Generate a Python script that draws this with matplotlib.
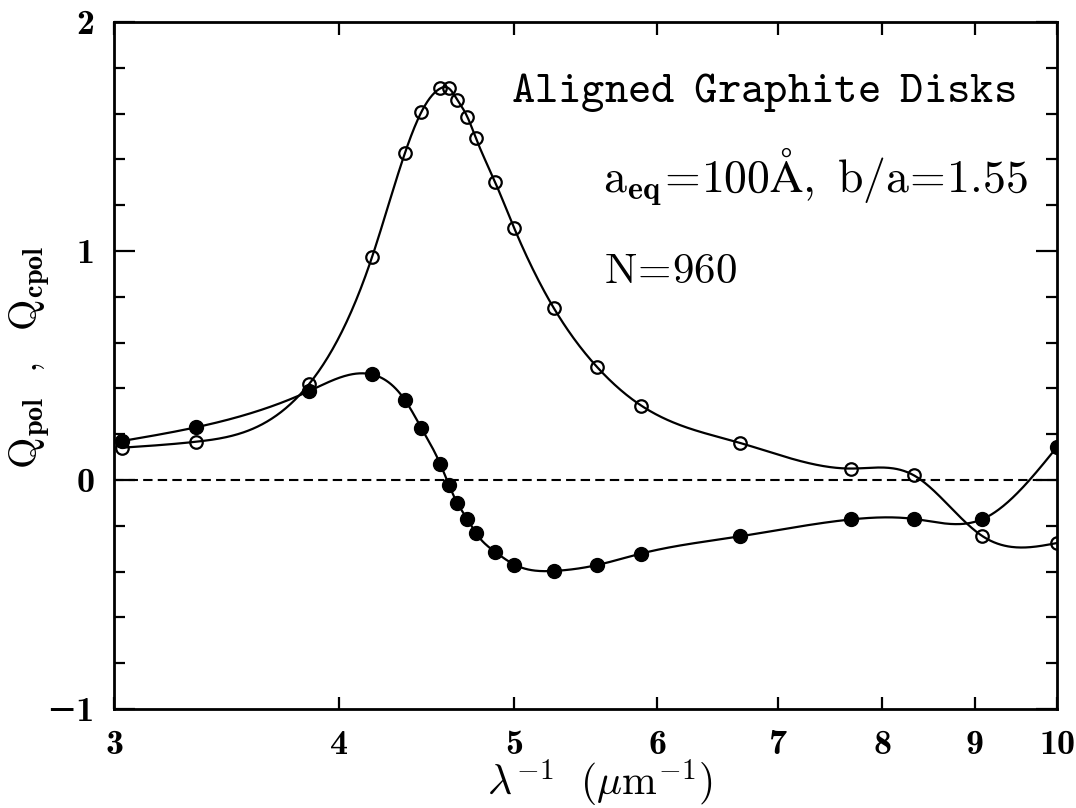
import numpy as np
import matplotlib
matplotlib.use("Agg")
import matplotlib.pyplot as plt
from matplotlib.ticker import MultipleLocator, NullLocator

plt.rcParams["mathtext.fontset"] = "cm"
plt.rcParams["axes.unicode_minus"] = True

# Inverse wavelength grid (um^-1), shared by both efficiencies
inv_lambda = [3.03, 3.33, 3.85, 4.17, 4.35, 4.44, 4.55, 4.60, 4.65, 4.71, 4.76,
              4.88, 5.00, 5.26, 5.56, 5.88, 6.67, 7.69, 8.33, 9.09, 10.0]

# Polarization efficiency (open circles)
q_pol = [0.141, 0.167, 0.421, 0.973, 1.430, 1.605, 1.710, 1.710, 1.660, 1.585, 1.495,
         1.300, 1.100, 0.750, 0.492, 0.325, 0.162, 0.050, 0.020, -0.245, -0.275]

# Circular polarization efficiency (filled circles)
q_cpol = [0.170, 0.230, 0.389, 0.461, 0.348, 0.229, 0.069, -0.021, -0.101, -0.171, -0.230,
          -0.314, -0.369, -0.397, -0.371, -0.321, -0.246, -0.172, -0.170, -0.171, 0.145]

x_ticks = [3, 4, 5, 6, 7, 8, 9, 10]
x_tick_labels = ["3", "4", "5", "6", "7", "8", "9", "10"]
y_ticks = [-1, 0, 1, 2]
y_tick_labels = ["\u22121", "0", "1", "2"]

TICK_FONT = ["cmb10", "DejaVu Sans"]


def natural_spline(xk, yk, xs):
    """Natural cubic spline through (xk, yk), evaluated at xs."""
    xk = np.asarray(xk, float)
    yk = np.asarray(yk, float)
    n = len(xk)
    h = np.diff(xk)
    A = np.zeros((n, n))
    r = np.zeros(n)
    A[0, 0] = A[-1, -1] = 1.0
    for i in range(1, n - 1):
        A[i, i - 1] = h[i - 1]
        A[i, i] = 2.0 * (h[i - 1] + h[i])
        A[i, i + 1] = h[i]
        r[i] = 3.0 * ((yk[i + 1] - yk[i]) / h[i] - (yk[i] - yk[i - 1]) / h[i - 1])
    c = np.linalg.solve(A, r)
    b = np.diff(yk) / h - h * (2.0 * c[:-1] + c[1:]) / 3.0
    d = (c[1:] - c[:-1]) / (3.0 * h)
    idx = np.clip(np.searchsorted(xk, xs) - 1, 0, n - 2)
    dx = xs - xk[idx]
    return yk[idx] + b[idx] * dx + c[idx] * dx ** 2 + d[idx] * dx ** 3


fig = plt.figure(figsize=(10.76, 8.08), dpi=100)
ax = fig.add_axes([0.106, 0.1225, 0.8765, 0.8503])

# smooth curves drawn in log(x)
t_nodes = np.log10(inv_lambda)
t_fine = np.linspace(t_nodes[0], t_nodes[-1], 800)
x_fine = 10 ** t_fine

ax.axhline(0.0, color="black", lw=1.5, ls=(0, (4.5, 2.5)), zorder=1)

ax.plot(x_fine, natural_spline(t_nodes, q_pol, t_fine), color="black", lw=1.6, zorder=2)
ax.plot(x_fine, natural_spline(t_nodes, q_cpol, t_fine), color="black", lw=1.6, zorder=2)

ax.plot(inv_lambda, q_pol, ls="none", marker="o", ms=9, mfc="none", mec="black",
        mew=1.6, zorder=3)
ax.plot(inv_lambda, q_cpol, ls="none", marker="o", ms=10, mfc="black", mec="black",
        zorder=4)

ax.set_xscale("log")
ax.set_xlim(3, 10)
ax.set_ylim(-1, 2)

ax.tick_params(which="both", direction="in", top=True, right=True, width=1.6)
ax.tick_params(axis="x", which="major", length=9, pad=15)
ax.tick_params(axis="y", which="major", length=15, pad=14)
ax.tick_params(axis="y", which="minor", length=8)

ax.xaxis.set_minor_locator(NullLocator())
ax.set_xticks(x_ticks)
ax.set_xticklabels(x_tick_labels)
ax.set_yticks(y_ticks)
ax.set_yticklabels(y_tick_labels)
ax.yaxis.set_minor_locator(MultipleLocator(0.2))
for lab in ax.get_xticklabels() + ax.get_yticklabels():
    lab.set_fontfamily(TICK_FONT)
    lab.set_fontsize(26)

for sp in ax.spines.values():
    sp.set_linewidth(2.0)

ax.text(0.4205, 0.884,
        r"$\mathtt{Aligned}\ \,\mathtt{Graphite}\ \,\mathtt{Disks}$",
        transform=ax.transAxes, fontsize=32, ha="left", va="baseline")
ax.text(0.518, 0.7525,
        r"$\mathrm{a}_{\mathbf{eq}}\!=\!\mathrm{100\AA,\ b/a}\!=\!\mathrm{1.55}$",
        transform=ax.transAxes, fontsize=33, ha="left", va="baseline")
ax.text(0.519, 0.620, r"$\mathrm{N}\!=\!\mathrm{960}$", transform=ax.transAxes,
        fontsize=31, ha="left", va="baseline")

fig.text(600 / 1076, 0.0149, r"$\lambda^{-1}\ \ (\mu\mathrm{m}^{-1})$", fontsize=30,
         ha="center", va="baseline")
fig.text(30 / 1076, 1 - 357 / 808,
         r"$\mathrm{Q}_{\mathbf{pol}}\ \ ,\ \ \mathrm{Q}_{\mathbf{cpol}}$",
         fontsize=29, rotation=90, ha="center", va="center")

fig.savefig("out.png", dpi=100)
